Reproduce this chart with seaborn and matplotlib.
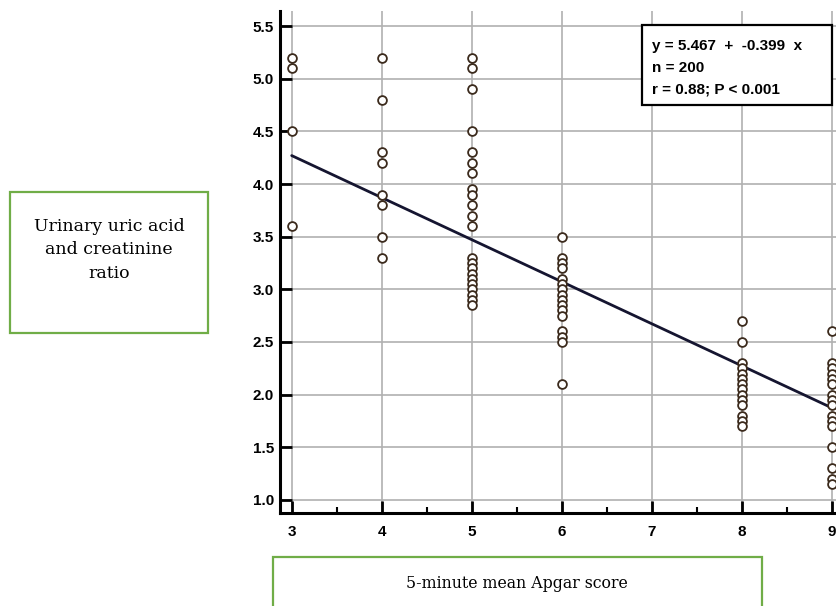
import matplotlib
matplotlib.use("Agg")
import matplotlib.pyplot as plt
import seaborn as sns
import pandas as pd
import numpy as np
from matplotlib.patches import Rectangle
from matplotlib.ticker import MultipleLocator

# ---- data ----
apgar_scores = [3, 4, 5, 6, 8, 9]
ratio_at_3 = [5.2, 5.1, 4.5, 3.6]
ratio_at_4 = [5.2, 4.8, 4.3, 4.2, 3.9, 3.8, 3.5, 3.3]
ratio_at_5 = [5.2, 5.1, 4.9, 4.5, 4.3, 4.2, 4.1, 3.95, 3.9, 3.8, 3.7, 3.6,
              3.3, 3.25, 3.2, 3.15, 3.1, 3.05, 3.0, 2.95, 2.9, 2.85]
ratio_at_6 = [3.5, 3.3, 3.25, 3.2, 3.1, 3.05, 3.0, 2.95, 2.9, 2.85, 2.8, 2.75,
              2.6, 2.55, 2.5, 2.1]
ratio_at_8 = [2.7, 2.5, 2.3, 2.25, 2.2, 2.15, 2.1, 2.05, 2.0, 1.95, 1.9, 1.8,
              1.75, 1.7]
ratio_at_9 = [2.6, 2.3, 2.25, 2.2, 2.15, 2.1, 2.0, 1.95, 1.9, 1.8, 1.75, 1.7,
              1.5, 1.3, 1.2, 1.15]
fit_intercept = 5.467
fit_slope = -0.399
fit_x = [3, 9]
x_ticks = [3, 4, 5, 6, 7, 8, 9]
y_ticks = [1.0, 1.5, 2.0, 2.5, 3.0, 3.5, 4.0, 4.5, 5.0, 5.5]
stats_lines = ["y = 5.467  +  -0.399  x", "n = 200", "r = 0.88; P < 0.001"]
y_label = "Urinary uric acid\nand creatinine\nratio"
x_label = "5-minute mean Apgar score"

groups = [ratio_at_3, ratio_at_4, ratio_at_5, ratio_at_6, ratio_at_8, ratio_at_9]
df = pd.DataFrame({
    "apgar": np.concatenate([[s] * len(g) for s, g in zip(apgar_scores, groups)]),
    "ratio": np.concatenate(groups),
})
fit_df = pd.DataFrame({"apgar": fit_x,
                       "ratio": [fit_intercept + fit_slope * v for v in fit_x]})

# ---- figure ----
W, H = 836, 606
sns.set_style("ticks")
plt.rcParams["font.family"] = ["Liberation Sans", "DejaVu Sans"]
plt.rcParams["text.color"] = "black"
fig = plt.figure(figsize=(W / 100, H / 100), dpi=100)

def fx(px):
    return px / W

def fy(py):
    return 1 - py / H

left_px, right_px, top_px, bottom_px = 280, 845, 11, 513
ax = fig.add_axes([fx(left_px), fy(bottom_px), fx(right_px - left_px),
                   (bottom_px - top_px) / H])

sns.scatterplot(data=df, x="apgar", y="ratio", ax=ax, marker="o", s=40,
                facecolor="white", edgecolor="#3b2a1c", linewidth=1.3,
                zorder=4, clip_on=False)
sns.lineplot(data=fit_df, x="apgar", y="ratio", ax=ax, color="#151530",
             linewidth=2.0, zorder=3)

ax.set_xlim(2.87, 9.15)
ax.set_ylim(0.876, 5.643)
ax.set_xticks(x_ticks)
ax.set_yticks(y_ticks)
ax.set_xticklabels([str(v) for v in x_ticks], fontweight="bold", fontsize=11)
ax.set_yticklabels([f"{v:.1f}" for v in y_ticks], fontweight="bold", fontsize=11)
ax.xaxis.set_minor_locator(MultipleLocator(0.5))
ax.tick_params(axis="both", which="major", direction="in", length=8.5,
               width=2, color="black", labelcolor="black",
               bottom=True, left=True)
ax.tick_params(axis="x", which="major", pad=9)
ax.tick_params(axis="y", which="major", pad=4.5)
ax.tick_params(axis="x", which="minor", direction="in", length=4.5,
               width=1.5, color="black", bottom=True)
ax.grid(True, which="major", color="#b0b0b0", linewidth=1.2)
ax.set_axisbelow(True)
ax.set_xlabel("")
ax.set_ylabel("")
for side in ["top", "right"]:
    ax.spines[side].set_visible(False)
for side in ["left", "bottom"]:
    ax.spines[side].set_linewidth(2.2)
    ax.spines[side].set_color("black")

# stats box
fig.add_artist(Rectangle((fx(642), fy(105)), fx(832 - 642), (105 - 25) / H,
                         transform=fig.transFigure, facecolor="white",
                         edgecolor="black", linewidth=1.6, zorder=10))
for i, line in enumerate(stats_lines):
    fig.text(fx(652), fy(50 + 21.5 * i), line, fontsize=11, fontweight="bold",
             ha="left", va="baseline", zorder=11, color="black")

# green label boxes
green = "#70ad47"
fig.add_artist(Rectangle((fx(10), fy(333)), fx(208 - 10), (333 - 192) / H,
                         transform=fig.transFigure, facecolor="white",
                         edgecolor=green, linewidth=1.6))
fig.text(fx(109), fy(250), y_label, ha="center", va="center", fontsize=12.5,
         family=["DejaVu Serif"], linespacing=1.5, color="black")
fig.add_artist(Rectangle((fx(273), fy(640)), fx(762 - 273), (640 - 557) / H,
                         transform=fig.transFigure, facecolor="white",
                         edgecolor=green, linewidth=1.6))
fig.text(fx(517), fy(583), x_label, ha="center", va="center", fontsize=11.3,
         family=["DejaVu Serif"], color="black")

fig.savefig("out.png", dpi=100)
